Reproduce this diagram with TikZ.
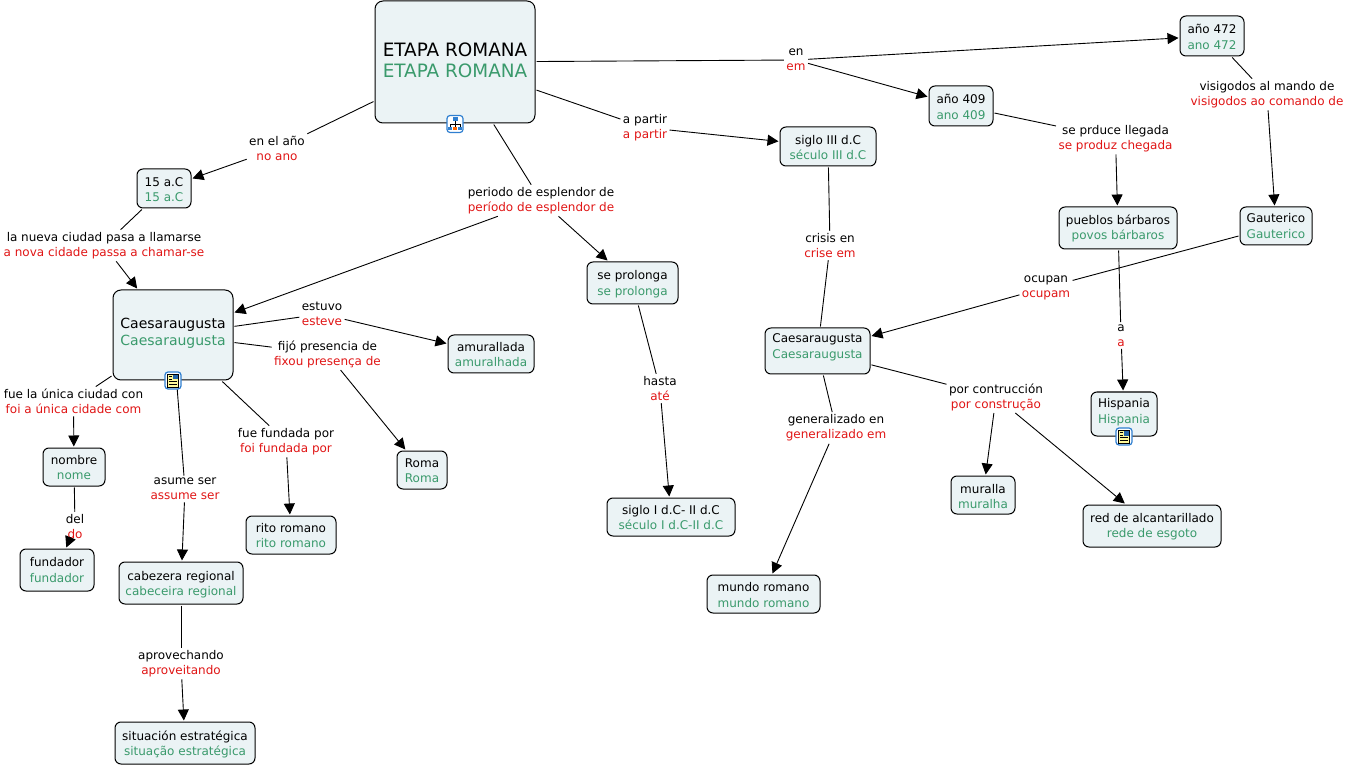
\documentclass[tikz,border=0pt]{standalone}
\usepackage{fontspec}
\setmainfont{DejaVu Sans}
\usetikzlibrary{arrows.meta}
\definecolor{gr}{HTML}{3A9A6C}
\definecolor{rd}{HTML}{E01515}
\definecolor{bx}{HTML}{EBF3F5}
\definecolor{ic}{HTML}{2F7FD0}
\newcommand{\shifted}[2]{\raisebox{\dimexpr-#1pt\relax}[\height][\depth]{#2}}
\newcommand{\bg}[3][0]{\shifted{#1}{#2}\\\shifted{#1}{\textcolor{gr}{#3}}}
\newcommand{\lb}[2]{#1\\\textcolor{rd}{#2}}
\tikzset{
 x=1pt,y=-1pt,
 concept/.style={draw=black,line width=1pt,fill=bx,rounded corners=6pt,align=center,inner sep=0pt,outer sep=1.5pt,font=\fontsize{12}{15.5}\selectfont},
 linklab/.style={align=center,inner sep=1.5pt,outer sep=1pt,font=\fontsize{12}{15}\selectfont},
 link/.style={line width=0.9pt,black},
 arrowlink/.style={link,-{Triangle[length=11pt,width=11pt]}},
 iconbox/.style={draw=ic,line width=1.2pt,fill=white,rounded corners=3pt,minimum width=16pt,minimum height=17pt,inner sep=0pt}
}
\begin{document}
\begin{tikzpicture}
\useasboundingbox (0,0) rectangle (1350,767);
% concepts
\node[concept,minimum width=160pt,minimum height=122pt,rounded corners=8pt,font=\fontsize{18.4}{21}\selectfont] (etapa) at (455,62) {\bg[-1.5]{ETAPA ROMANA}{ETAPA ROMANA}};
\node[concept,minimum width=64pt,minimum height=40pt] (a472) at (1212,36) {\bg[1]{año 472}{ano 472}};
\node[concept,minimum width=64pt,minimum height=40pt] (a409) at (961,106) {\bg[1]{año 409}{ano 409}};
\node[concept,minimum width=96pt,minimum height=39pt] (s3) at (828,146.5) {\bg[1]{siglo III d.C}{século III d.C}};
\node[concept,minimum width=54pt,minimum height=39pt] (a15) at (164,188.5) {\bg[1]{15 a.C}{15 a.C}};
\node[concept,minimum width=120pt,minimum height=90pt,rounded corners=8pt,font=\fontsize{14}{17}\selectfont] (cae) at (173,335) {\bg[-1.5]{Caesaraugusta}{Caesaraugusta}};
\node[concept,minimum width=91pt,minimum height=42pt] (prol) at (632.5,283) {\bg[1]{se prolonga}{se prolonga}};
\node[concept,minimum width=118pt,minimum height=42pt] (pueb) at (1118,228) {\bg[0.5]{pueblos bárbaros}{povos bárbaros}};
\node[concept,minimum width=72pt,minimum height=38pt] (gaut) at (1276,226) {\bg{Gauterico}{Gauterico}};
\node[concept,minimum width=105pt,minimum height=46pt] (cae2) at (817.5,351) {\bg[-3.5]{Caesaraugusta}{Caesaraugusta}};
\node[concept,minimum width=86pt,minimum height=38pt] (amu) at (491,354) {\bg[0.5]{amurallada}{amuralhada}};
\node[concept,minimum width=50pt,minimum height=38pt] (roma) at (422,470) {\bg[0.5]{Roma}{Roma}};
\node[concept,minimum width=62pt,minimum height=38pt] (nom) at (74,467) {\bg[0.5]{nombre}{nome}};
\node[concept,minimum width=74pt,minimum height=42pt] (fun) at (57,570) {\bg{fundador}{fundador}};
\node[concept,minimum width=124pt,minimum height=42pt] (cab) at (181,583) {\bg[1.5]{cabezera regional}{cabeceira regional}};
\node[concept,minimum width=90pt,minimum height=38pt] (rito) at (291,535) {\bg[0.5]{rito romano}{rito romano}};
\node[concept,minimum width=140pt,minimum height=42pt] (sit) at (185,743) {\bg[1.5]{situación estratégica}{situação estratégica}};
\node[concept,minimum width=128pt,minimum height=38pt] (s1) at (671,517) {\bg[0.5]{siglo I d.C- II d.C}{século I d.C-II d.C}};
\node[concept,minimum width=113pt,minimum height=38pt] (mun) at (763.5,594) {\bg[1]{mundo romano}{mundo romano}};
\node[concept,minimum width=64pt,minimum height=38pt] (mur) at (983,495) {\bg[1.5]{muralla}{muralha}};
\node[concept,minimum width=138pt,minimum height=42pt] (red) at (1152,526) {\bg[0.5]{red de alcantarillado}{rede de esgoto}};
\node[concept,minimum width=66pt,minimum height=44pt] (his) at (1124,414) {\bg[-2]{Hispania}{Hispania}};
% link labels
\node[linklab] (len) at (796,60) {\lb{en}{em}};
\node[linklab] (lpar) at (645,127.5) {\lb{a partir}{a partir}};
\node[linklab] (lano) at (277,148.5) {\lb{en el año}{no ano}};
\node[linklab] (lper) at (541,200.5) {\lb{periodo de esplendor de}{período de esplendor de}};
\node[linklab] (lnue) at (104,245.5) {\lb{la nueva ciudad pasa a llamarse}{a nova cidade passa a chamar-se}};
\node[linklab] (lest) at (322,314) {\lb{estuvo}{esteve}};
\node[linklab] (lfij) at (327.5,354) {\lb{fijó presencia de}{fixou presença de}};
\node[linklab] (lfue) at (73.5,401.5) {\lb{fue la única ciudad con}{foi a única cidade com}};
\node[linklab] (lasu) at (185,489) {\lb{asume ser}{assume ser}};
\node[linklab] (lfun) at (286,441.5) {\lb{fue fundada por}{foi fundada por}};
\node[linklab] (ldel) at (75,526.5) {\lb{del}{do}};
\node[linklab] (lapr) at (181,663.5) {\lb{aprovechando}{aproveitando}};
\node[linklab] (lhas) at (660,388.5) {\lb{hasta}{até}};
\node[linklab] (lcri) at (830,245.5) {\lb{crisis en}{crise em}};
\node[linklab] (lgen) at (836,428) {\lb{generalizado en}{generalizado em}};
\node[linklab] (lpor) at (996,397) {\lb{por contrucción}{por construção}};
\node[linklab] (lpro) at (1115.5,138.5) {\lb{se prduce llegada}{se produz chegada}};
\node[linklab] (lvis) at (1267,94.5) {\lb{visigodos al mando de}{visigodos ao comando de}};
\node[linklab] (locu) at (1046,287.5) {\lb{ocupan}{ocupam}};
\node[linklab] (la) at (1121,335.5) {\lb{a}{a}};
% connectors
\draw[link] (etapa) -- (len);
\draw[arrowlink] (len) -- (a472);
\draw[arrowlink] (len) -- (a409);
\draw[link] (etapa) -- (lpar);
\draw[arrowlink] (lpar) -- (s3);
\draw[link] (etapa) -- (lano);
\draw[arrowlink] (lano) -- (a15);
\draw[link] (etapa) -- (lper);
\draw[arrowlink] (lper) -- (cae);
\draw[arrowlink] (lper) -- (prol);
\draw[link] (a15) -- (lnue);
\draw[arrowlink] (lnue) -- (cae);
\draw[link] (cae) -- (lest);
\draw[arrowlink] (lest) -- (amu);
\draw[link] (cae) -- (lfij);
\draw[arrowlink] (lfij) -- (roma);
\draw[link] (cae) -- (lfue);
\draw[arrowlink] (lfue) -- (nom);
\draw[link] (cae) -- (lasu);
\draw[arrowlink] (lasu) -- (cab);
\draw[link] (cae) -- (lfun);
\draw[arrowlink] (lfun) -- (rito);
\draw[link] (nom) -- (ldel);
\draw[arrowlink] (ldel) -- (fun);
\draw[link] (cab) -- (lapr);
\draw[arrowlink] (lapr) -- (sit);
\draw[link] (prol) -- (lhas);
\draw[arrowlink] (lhas) -- (s1);
\draw[link] (s3) -- (lcri);
\draw[link] (lcri) -- (cae2);
\draw[link] (cae2) -- (lgen);
\draw[arrowlink] (lgen) -- (mun);
\draw[link] (cae2) -- (lpor);
\draw[arrowlink] (lpor) -- (mur);
\draw[arrowlink] (lpor) -- (red);
\draw[link] (a409) -- (lpro);
\draw[arrowlink] (lpro) -- (pueb);
\draw[link] (a472) -- (lvis);
\draw[arrowlink] (lvis) -- (gaut);
\draw[link] (gaut) -- (locu);
\draw[arrowlink] (locu) -- (cae2);
\draw[link] (pueb) -- (la);
\draw[arrowlink] (la) -- (his);
% icons
\node[iconbox] (ic1) at (455,124) {};
\fill[ic] (452.5,117.5) rectangle (457.5,121);
\draw[black,line width=0.6pt] (455,121) -- (455,127) (450,127) -- (450,124) -- (460,124) -- (460,127);
\fill[ic] (448,127) rectangle (452,130.5);
\fill[orange!80!red] (453,127) rectangle (457,130.5);
\fill[ic] (458,127) rectangle (462,130.5);
\foreach \n/\cx/\cy in {ic2/173/380.5,ic3/1124/436.5}{
 \node[iconbox] (\n) at (\cx,\cy) {};
 \draw[black,fill=yellow!40,line width=0.6pt] (\cx-5.5,\cy-6.5) rectangle (\cx+5.5,\cy+6.5);
 \fill[ic!80!black] (\cx,\cy-5.5) rectangle (\cx+4.5,\cy-1);
 \draw[black,line width=0.5pt] (\cx-4,\cy-4) -- (\cx-1,\cy-4) (\cx-4,\cy-1.5) -- (\cx-1,\cy-1.5) (\cx-4,\cy+1) -- (\cx+4,\cy+1) (\cx-4,\cy+3.5) -- (\cx+4,\cy+3.5);
}
\end{tikzpicture}
\end{document}
